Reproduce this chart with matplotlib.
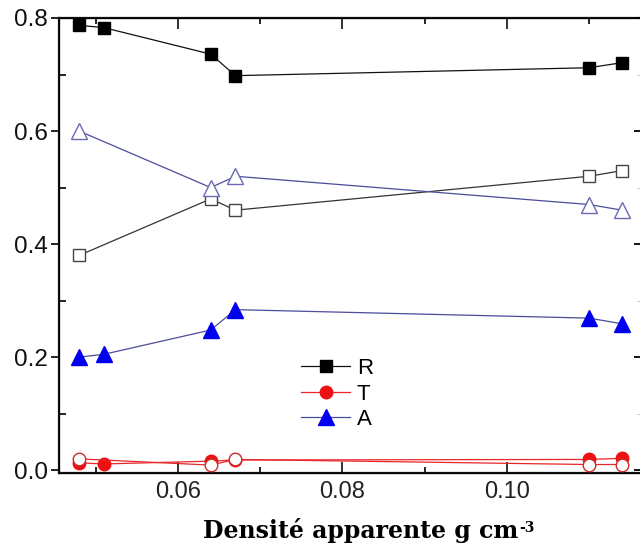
import matplotlib
matplotlib.use("Agg")
import matplotlib.pyplot as plt
from matplotlib.ticker import MultipleLocator
from matplotlib.lines import Line2D

plt.rcParams['font.family'] = ['Liberation Sans', 'DejaVu Sans']

# apparent density (g cm-3)
x6 = [0.048, 0.051, 0.064, 0.067, 0.110, 0.114]
x5 = [0.048, 0.064, 0.067, 0.110, 0.114]

# filled markers
R_fill = [0.787, 0.783, 0.736, 0.698, 0.712, 0.721]
T_fill = [0.013, 0.011, 0.016, 0.018, 0.019, 0.021]
A_fill = [0.200, 0.205, 0.248, 0.284, 0.269, 0.259]

# open markers
R_open = [0.38, 0.48, 0.46, 0.52, 0.53]
T_open = [0.020, 0.009, 0.019, 0.010, 0.010]
A_open = [0.60, 0.50, 0.52, 0.47, 0.46]

black = '#111111'
red = '#e8262a'
blue = '#0000ee'
slate = '#4c4c9c'

fig = plt.figure(figsize=(6.4, 5.48), dpi=100)
ax = fig.add_axes([59/640, 75/548, 582/640, 455/548])

lw = 0.9
# open series
ax.plot(x5, R_open, color='#333333', lw=lw, marker='s', ms=8, mfc='white', mec='#444444', mew=1.0, zorder=2)
ax.plot(x5, A_open, color=slate, lw=lw, marker='^', ms=11, mfc='white', mec='#6a6ab0', mew=1.0, zorder=2)
ax.plot(x5, T_open, color=red, lw=lw, marker='o', ms=9, mfc='white', mec='#d02a2a', mew=1.0, zorder=3)
# filled series
ax.plot(x6, R_fill, color=black, lw=lw, marker='s', ms=9, mfc='black', mec='black', zorder=3)
ax.plot(x6, A_fill, color=slate, lw=lw, marker='^', ms=11, mfc=blue, mec=blue, zorder=3)
ax.plot(x6, T_fill, color=red, lw=lw, marker='o', ms=9, mfc='#ee1111', mec='#ee1111', zorder=2)

ax.set_xlim(0.04555, 0.1163)
ax.set_ylim(-0.005, 0.8)

ax.xaxis.set_major_locator(MultipleLocator(0.02))
ax.xaxis.set_minor_locator(MultipleLocator(0.01))
ax.yaxis.set_major_locator(MultipleLocator(0.2))
ax.yaxis.set_minor_locator(MultipleLocator(0.1))
ax.xaxis.set_major_formatter(plt.FuncFormatter(lambda v, p: f"{v:.2f}"))
ax.yaxis.set_major_formatter(plt.FuncFormatter(lambda v, p: f"{v:.1f}"))

ax.tick_params(axis='x', which='major', direction='in', length=8, width=1.3,
               top=True, labelsize=17, pad=6, colors='#222222')
ax.tick_params(axis='x', which='minor', direction='in', length=4, width=1.2, top=True)
ax.tick_params(axis='y', which='major', direction='out', length=6, width=1.3,
               right=False, labelsize=17.5, pad=2, colors='#111111')
ax.tick_params(axis='y', which='minor', direction='in', length=5, width=1.2, right=False)

for sp in ax.spines.values():
    sp.set_linewidth(1.6)
    sp.set_color('#111111')

# right-hand ticks (inward)
ax2 = ax.twinx()
ax2.set_ylim(ax.get_ylim())
ax2.yaxis.set_major_locator(MultipleLocator(0.2))
ax2.yaxis.set_minor_locator(MultipleLocator(0.1))
ax2.tick_params(axis='y', which='major', direction='in', length=5, width=1.3, labelright=False)
ax2.tick_params(axis='y', which='minor', direction='in', length=3, width=0.6, colors='#bbbbbb', labelright=False)

handles = [
    Line2D([], [], color=black, lw=lw, marker='s', ms=9, mfc='black', mec='black'),
    Line2D([], [], color=red, lw=lw, marker='o', ms=9, mfc='#ee1111', mec='#ee1111'),
    Line2D([], [], color=slate, lw=lw, marker='^', ms=11, mfc=blue, mec=blue),
]
fig.legend(handles, ['R', 'T', 'A'], loc='upper left', frameon=False, fontsize=16,
           bbox_to_anchor=(290/640, 1 - 347/548), bbox_transform=fig.transFigure,
           borderpad=0, handlelength=2.2, handletextpad=0.3, labelspacing=0.2)

serif = ['DejaVu Serif', 'Liberation Serif']
lab = fig.text(203/640, 1 - 538/548, "Densité apparente g cm", ha='left', va='baseline',
               fontsize=17, fontweight='bold', family=serif)
ax.annotate("-3", xy=(1, 1), xycoords=lab, xytext=(0.5, -2), textcoords='offset points',
            ha='left', va='top', fontsize=10, fontweight='bold', family=serif)

fig.savefig("out.png", dpi=100)
